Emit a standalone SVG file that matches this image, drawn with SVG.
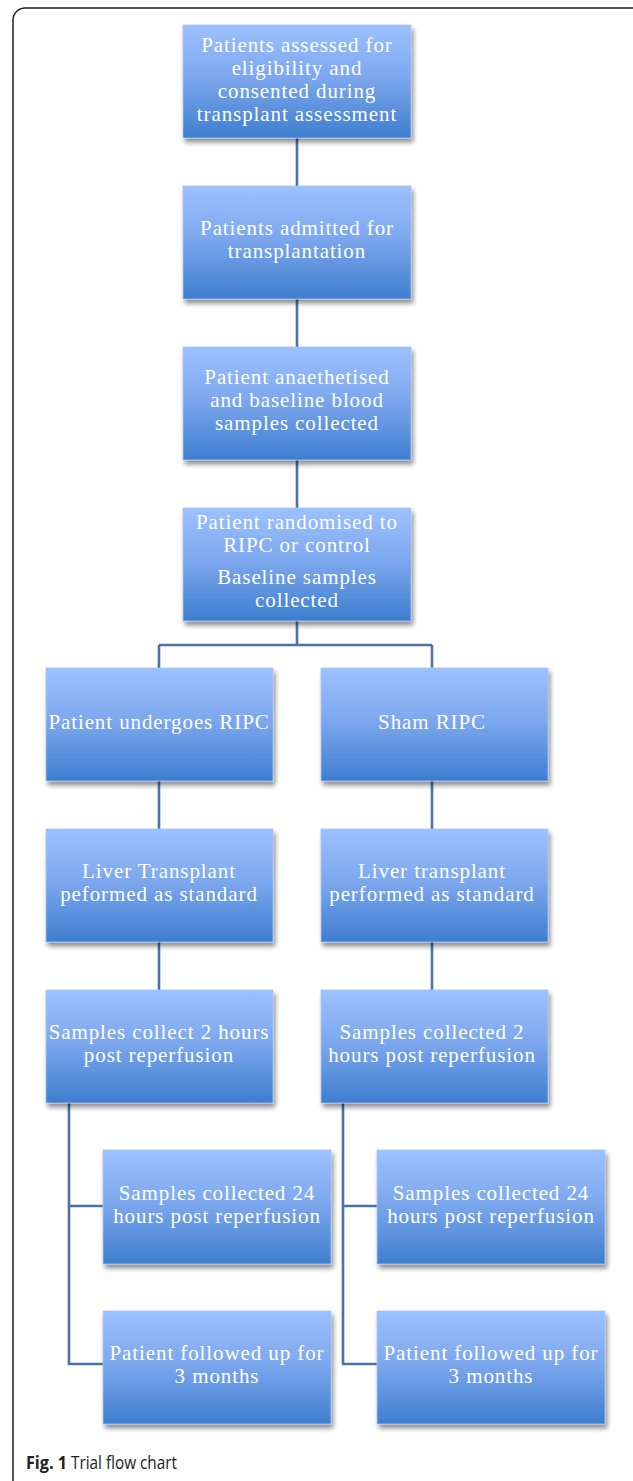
<svg xmlns="http://www.w3.org/2000/svg" width="633" height="1481" viewBox="0 0 633 1481">
<defs>
<linearGradient id="g" x1="0" y1="0" x2="0" y2="1">
<stop offset="0" stop-color="#9cc1ff"/>
<stop offset="0.45" stop-color="#7ea8ee"/>
<stop offset="1" stop-color="#3e7ecf"/>
</linearGradient>
<filter id="sh" x="-10%" y="-10%" width="125%" height="130%">
<feGaussianBlur in="SourceAlpha" stdDeviation="2.5"/>
<feOffset dx="2" dy="4" result="b"/>
<feComponentTransfer><feFuncA type="linear" slope="0.45"/></feComponentTransfer>
<feMerge><feMergeNode/><feMergeNode in="SourceGraphic"/></feMerge>
</filter>
</defs>
<style>
.box{fill:url(#g);stroke:#a9c6f0;stroke-width:0.8;filter:url(#sh)}
.t{font-family:"Liberation Serif","DejaVu Serif",serif;font-size:21px;letter-spacing:0.9px;fill:#ffffff;text-anchor:middle}
.c{fill:none;stroke:#4a72a6;stroke-width:2.6}
.cap{font-family:"Open Sans","Liberation Sans",sans-serif;font-size:18px;fill:#222}
</style>
<rect x="13" y="8" width="640" height="1500" rx="12" fill="none" stroke="#222" stroke-width="1.5"/>
<g id="connectors">
<path class="c" d="M297 138V186M297 299V347M297 460V508M297 621V645M159 645H432M159 645V668M432 645V668"/>
<path class="c" d="M159 781V829M432 781V829M159 942V990M432 942V990"/>
<path class="c" d="M69 1103V1364H103M69 1206H103M343 1103V1364H377M343 1206H377"/>
</g>
<g id="n1"><rect class="box" x="183" y="25" width="228" height="113"/>
<text class="t" x="297" y="52">Patients assessed for</text><text class="t" x="297" y="75">eligibility and</text><text class="t" x="297" y="98">consented during</text><text class="t" x="297" y="121">transplant assessment</text></g>
<g id="n2"><rect class="box" x="183" y="186" width="228" height="113"/>
<text class="t" x="297" y="235">Patients admitted for</text><text class="t" x="297" y="258">transplantation</text></g>
<g id="n3"><rect class="box" x="183" y="347" width="228" height="113"/>
<text class="t" x="297" y="384">Patient anaethetised</text><text class="t" x="297" y="407">and baseline blood</text><text class="t" x="297" y="430">samples collected</text></g>
<g id="n4"><rect class="box" x="183" y="508" width="228" height="113"/>
<text class="t" x="297" y="529">Patient randomised to</text><text class="t" x="297" y="552">RIPC or control</text><text class="t" x="297" y="584">Baseline samples</text><text class="t" x="297" y="607">collected</text></g>
<g id="n5"><rect class="box" x="46" y="668" width="227" height="113"/>
<text class="t" x="159" y="729">Patient undergoes RIPC</text></g>
<g id="n6"><rect class="box" x="321" y="668" width="227" height="113"/>
<text class="t" x="432" y="729">Sham RIPC</text></g>
<g id="n7"><rect class="box" x="46" y="829" width="227" height="113"/>
<text class="t" x="159" y="878">Liver Transplant</text><text class="t" x="159" y="901">peformed as standard</text></g>
<g id="n8"><rect class="box" x="321" y="829" width="227" height="113"/>
<text class="t" x="432" y="878">Liver transplant</text><text class="t" x="432" y="901">performed as standard</text></g>
<g id="n9"><rect class="box" x="46" y="990" width="227" height="113"/>
<text class="t" x="159" y="1039">Samples collect 2 hours</text><text class="t" x="159" y="1062">post reperfusion</text></g>
<g id="n10"><rect class="box" x="321" y="990" width="227" height="113"/>
<text class="t" x="432" y="1039">Samples collected 2</text><text class="t" x="432" y="1062">hours post reperfusion</text></g>
<g id="n11"><rect class="box" x="103" y="1150" width="228" height="114"/>
<text class="t" x="217" y="1200">Samples collected 24</text><text class="t" x="217" y="1223">hours post reperfusion</text></g>
<g id="n12"><rect class="box" x="377" y="1150" width="228" height="114"/>
<text class="t" x="491" y="1200">Samples collected 24</text><text class="t" x="491" y="1223">hours post reperfusion</text></g>
<g id="n13"><rect class="box" x="103" y="1311" width="228" height="113"/>
<text class="t" x="217" y="1360">Patient followed up for</text><text class="t" x="217" y="1383">3 months</text></g>
<g id="n14"><rect class="box" x="377" y="1311" width="228" height="113"/>
<text class="t" x="491" y="1360">Patient followed up for</text><text class="t" x="491" y="1383">3 months</text></g>
<text class="cap" x="26" y="1469" font-weight="bold" textLength="41" lengthAdjust="spacingAndGlyphs">Fig. 1</text>
<text class="cap" x="71" y="1469" textLength="106" lengthAdjust="spacingAndGlyphs">Trial flow chart</text>
</svg>
